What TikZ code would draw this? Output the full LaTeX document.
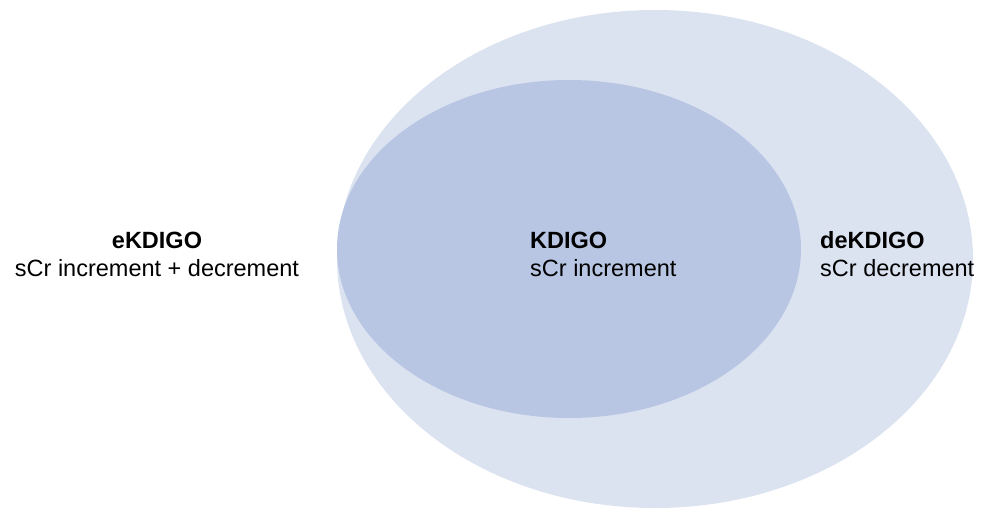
\documentclass[tikz,border=0pt]{standalone}
\usepackage{fontspec}
\setmainfont{Liberation Sans}
\definecolor{outerfill}{RGB}{220,227,240}
\definecolor{innerfill}{RGB}{184,198,228}
\begin{document}
\begin{tikzpicture}[x=1pt,y=-1pt,
  lbl/.style={inner sep=0pt,font=\fontsize{23.5}{28}\selectfont},
  ttl/.style={lbl,font=\fontsize{23.5}{28}\selectfont\bfseries}]
\useasboundingbox (0,0) rectangle (992,514);
\fill[outerfill] (655,259) ellipse [x radius=318, y radius=249];
\fill[innerfill] (569,249) ellipse [x radius=232, y radius=169];
\node[ttl,anchor=base] (e1) at (157,248) {eKDIGO};
\node[lbl,anchor=base] (e2) at (157,276) {sCr increment + decrement};
\node[ttl,anchor=base west] (k1) at (530,248) {KDIGO};
\node[lbl,anchor=base west] (k2) at (530,276) {sCr increment};
\node[ttl,anchor=base west] (d1) at (820,248) {deKDIGO};
\node[lbl,anchor=base west] (d2) at (820,276) {sCr decrement};
\end{tikzpicture}
\end{document}
